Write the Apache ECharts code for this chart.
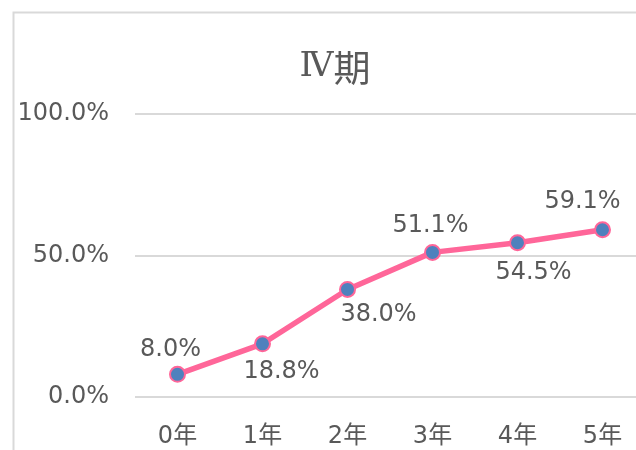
<!DOCTYPE html>
<html>
<head>
<meta charset="utf-8">
<script src="https://cdn.jsdelivr.net/npm/echarts@6/dist/echarts.min.js"></script>
<style>
  html, body { margin: 0; padding: 0; background: #fff; }
  #main { width: 636px; height: 450px; }
</style>
</head>
<body>
<div id="main"></div>
<script>
// 数据
var years = ['0年', '1年', '2年', '3年', '4年', '5年'];
var rates = [0.080, 0.188, 0.380, 0.511, 0.545, 0.591];
var yTicks = [0, 0.5, 1];
// label offsets (px) from each point
var labelOffsets = [[-7, -25], [19, 28], [31, 25], [-2, -27], [16, 30], [-20, -28]];

var font = "'DejaVu Sans', 'Noto Sans CJK JP', sans-serif";
var txt = '#595959';

var myChart = echarts.init(document.getElementById('main'));

var option = {
    backgroundColor: '#fff',
    animation: false,
    title: {
        text: '{a|Ⅳ}{b|期}',
        left: 330,
        textAlign: 'center',
        top: 44,
        textStyle: {
            fontWeight: 'normal',
            rich: {
                a: { fontFamily: "'DejaVu Serif', serif", fontSize: 34, fontWeight: 'normal', color: txt },
                b: { fontFamily: "'Noto Sans CJK JP'", fontSize: 37, fontWeight: 'normal', color: txt }
            }
        }
    },
    graphic: [{
        type: 'polyline',
        shape: { points: [[13.5, 460], [13.5, 12.5], [650, 12.5]] },
        style: { stroke: '#d9d9d9', lineWidth: 2, fill: null },
        silent: true
    }],
    grid: { left: 135, top: 114, width: 510, height: 283, outerBoundsMode: 'none', containLabel: false },
    xAxis: {
        type: 'category',
        data: years,
        boundaryGap: true,
        axisLine: { show: false },
        axisTick: { show: false },
        axisLabel: { margin: 28, fontSize: 24, color: txt, fontFamily: font }
    },
    yAxis: {
        type: 'value',
        min: yTicks[0],
        max: yTicks[yTicks.length - 1],
        interval: yTicks[1] - yTicks[0],
        axisLine: { show: false },
        axisTick: { show: false },
        splitLine: { lineStyle: { color: '#d9d9d9', width: 2 } },
        axisLabel: {
            margin: 26, fontSize: 24, color: txt, fontFamily: font,
            verticalAlign: 'middle', padding: [3, 0, 0, 0],
            formatter: function (v) { return (v * 100).toFixed(1) + '%'; }
        }
    },
    series: [{
        type: 'line',
        data: rates.map(function (v, i) {
            return {
                value: v,
                label: { offset: labelOffsets[i] }
            };
        }),
        lineStyle: { color: '#ff6699', width: 5.5 },
        symbol: 'circle',
        symbolSize: 15,
        itemStyle: { color: '#4f81bd', borderColor: '#ff6699', borderWidth: 2 },
        label: {
            show: true,
            position: 'inside',
            fontSize: 24,
            color: txt,
            fontFamily: font,
            formatter: function (p) { return (p.value * 100).toFixed(1) + '%'; }
        },
        z: 3
    }]
};

myChart.setOption(option);
</script>
</body>
</html>
